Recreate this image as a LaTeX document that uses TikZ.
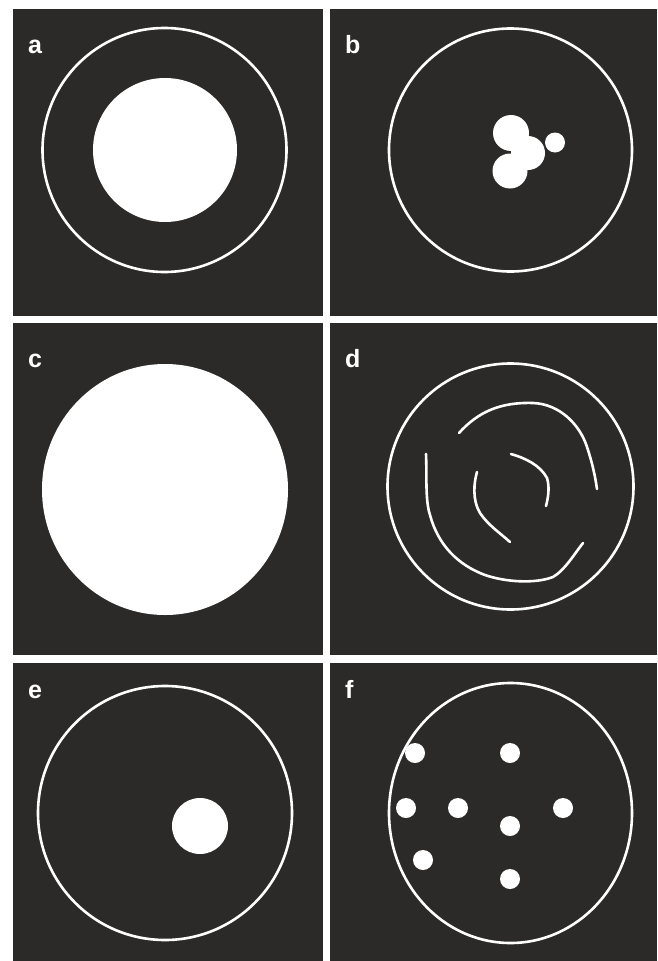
\documentclass[tikz,border=0pt]{standalone}
\usepackage{fontspec}
\setmainfont{Liberation Sans}
\definecolor{panelbg}{RGB}{43,42,41}
\begin{document}
\begin{tikzpicture}[x=1pt,y=-1pt,
  panel/.style={fill=panelbg,draw=none},
  ring/.style={draw=white,line width=2.6pt},
  blob/.style={fill=white,draw=none},
  trace/.style={draw=white,line width=2.6pt,line cap=round,line join=round},
  lbl/.style={text=white,font=\fontsize{25}{25}\selectfont\bfseries,inner sep=0pt,anchor=base west}]
\useasboundingbox (0,0) rectangle (657,961);
\fill[white] (0,0) rectangle (657,961);
% panels
\fill[panel] (13,9) rectangle (323,316);
\fill[panel] (330,9) rectangle (657,316);
\fill[panel] (13,323) rectangle (323,655);
\fill[panel] (330,323) rectangle (657,655);
\fill[panel] (13,663) rectangle (323,961);
\fill[panel] (330,663) rectangle (657,961);
% labels
\node[lbl] (la) at (28,53) {a};
\node[lbl] (lb) at (345,53) {b};
\node[lbl] (lc) at (28,367) {c};
\node[lbl] (ld) at (345,367) {d};
\node[lbl] (le) at (28,698) {e};
\node[lbl] (lf) at (345,698) {f};
% a
\draw[ring] (164.5,150) circle (122);
\fill[blob] (165,150) circle (72);
% b
\draw[ring] (510.5,150) circle (121.5);
\fill[blob] (511,133) circle (18);
\fill[blob] (510,171) circle (17.5);
\fill[blob] (528,153) circle (17);
\fill[blob] (555,142.5) circle (10);
% c
\fill[blob] (165,489.5) ellipse (123 and 125.5);
% d
\draw[ring] (510.5,486.5) circle (123);
\draw[trace] (459,433) .. controls (478,412) and (500,402) .. (533,403)
  .. controls (560,404) and (580,425) .. (587,447) .. controls (592,462) and (595,475) .. (597,489);
\draw[trace] (426,454) .. controls (427,475) and (425,500) .. (430,515)
  .. controls (438,545) and (458,565) .. (485,575) .. controls (505,582) and (535,584) .. (553,577)
  .. controls (565,570) and (575,553) .. (583,543);
\draw[trace] (477,472) .. controls (474,482) and (472,500) .. (480,513) .. controls (488,525) and (500,533) .. (510,542);
\draw[trace] (511,454) .. controls (525,458) and (540,465) .. (547,478) .. controls (550,488) and (548,498) .. (546,506);
% e
\draw[ring] (165,813) circle (127);
\fill[blob] (200,826) circle (28);
% f
\draw[ring] (510.5,813) ellipse (121.5 and 130);
\foreach \p/\n in {(415,753)/f1,(510,753)/f2,(406,808)/f3,(458,808)/f4,(510,826)/f5,(563,808)/f6,(423,860)/f7,(510,879)/f8}
  \fill[blob] \p circle (10);
\end{tikzpicture}
\end{document}
